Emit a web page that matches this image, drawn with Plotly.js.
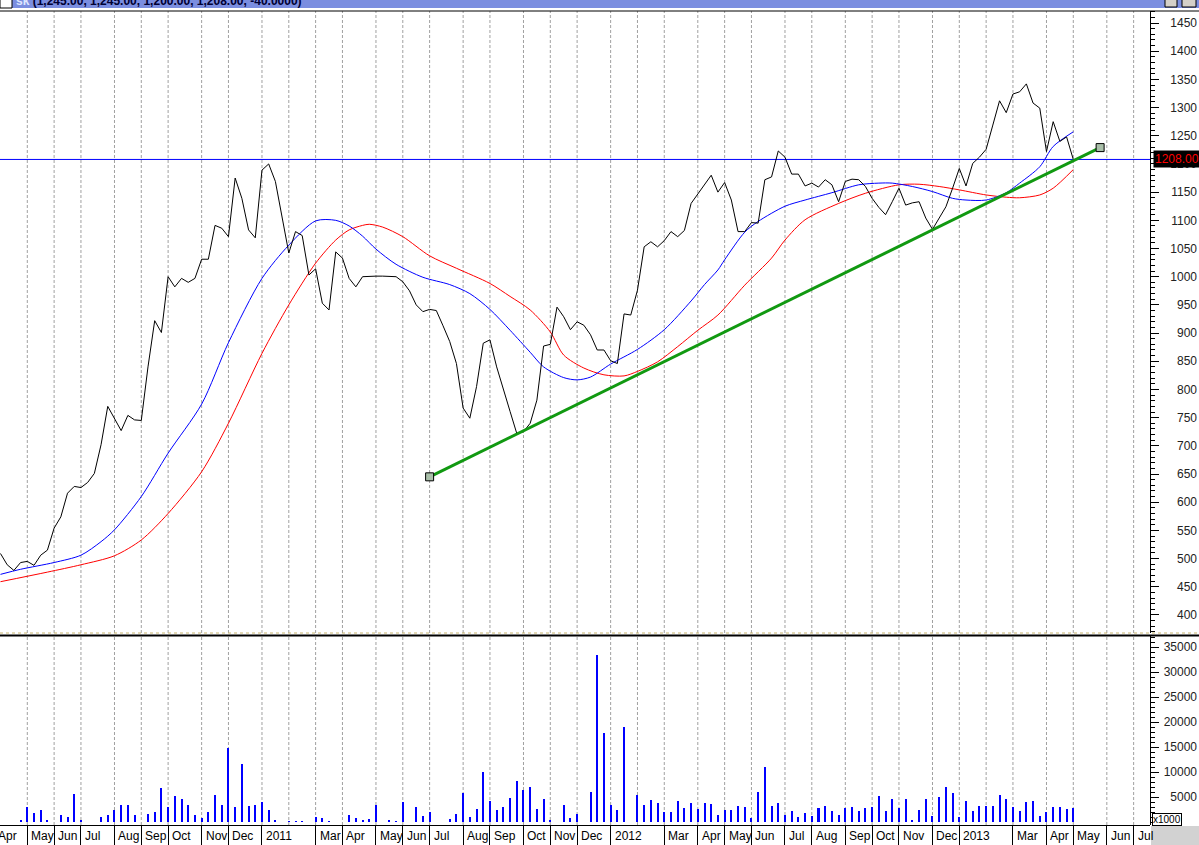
<!DOCTYPE html>
<html><head><meta charset="utf-8">
<script src="https://cdn.plot.ly/plotly-3.0.1.min.js"></script>
<style>html,body{margin:0;padding:0;background:#fff;overflow:hidden}</style>
</head><body><div id="chart" style="width:1199px;height:845px"></div>
<script>
// ---- DATA (weekly, Fridays; week 0 = 2010-04-09) ----
const titleText = "sk";
const ohlcText = "(1,245.00, 1,245.00, 1,200.00, 1,208.00, -40.0000)";
const monthNames = ["Jan","Feb","Mar","Apr","May","Jun","Jul","Aug","Sep","Oct","Nov","Dec"];

const closes = [
 509,489,479,493,495,488,506,515,554,574,
 616,628,626,635,651,702,770,748,727,754,
 746,745,840,922,901,1000,982,997,990,997,
 1031,1031,1091,1086,1071,1175,1139,1083,1069,1189,
 1200,1169,1107,1042,1080,1073,1003,1014,953,941,
 1044,1033,997,982,1000,1001,1001,1001,1001,1000,
 991,975,950,938,942,940,913,885,846,767,
 749,805,882,888,840,799,761,722,725,740,
 781,877,880,946,929,906,920,914,897,870,
 870,851,846,934,932,976,1053,1062,1053,1064,
 1080,1071,1082,1130,1147,1163,1180,1150,1167,1136,
 1080,1080,1096,1095,1172,1177,1223,1212,1182,1182,
 1161,1166,1159,1172,1163,1133,1169,1173,1172,1160,
 1139,1123,1110,1133,1157,1127,1131,1133,1104,1084,
 1104,1124,1157,1192,1161,1201,1212,1226,1269,1312,
 1291,1324,1328,1342,1308,1299,1222,1275,1240,1248,
 1208
];

const volumes = [
 0,0,0,400,3100,1900,2500,500,0,1500,
 1000,5600,400,0,0,1000,1500,2500,3500,3500,
 1500,0,1700,2000,6800,3000,5300,4600,3500,1500,
 800,2000,5500,3500,14800,3000,11600,3300,3500,4000,
 2500,500,0,300,300,300,0,1000,800,300,
 0,0,1500,800,500,600,3500,0,500,200,
 4000,0,3000,1300,2000,0,0,600,1600,5800,
 1000,2700,10000,4300,2500,3000,4800,8200,6500,7000,
 2600,4700,500,0,3400,800,1600,0,6000,33500,
 17800,3500,2500,19000,0,5500,3500,4400,3800,2000,
 2000,4200,2800,3900,2600,3900,3600,1500,2500,2500,
 3300,3000,800,6000,11000,3300,3800,1500,2300,1000,
 1800,1300,2800,3300,2200,1500,2800,3000,2300,2800,
 3000,5300,2200,4700,2900,4700,500,2500,4600,1300,
 5000,7000,5800,1000,4200,2300,3200,3200,3300,5500,
 4600,3000,2300,4000,4200,1300,2100,3000,3000,2600,
 2900
];

const blueWeeks = [0,3,8,12,15,17,21,25,30,34,39,43,47,50,52,54,56,59,63,67,70,73,76,79,81,84,86,88,91,95,99,103,105,107,108,111,113,117,120,124,128,131,133,136,139,142,144,147,150,152,155,157,160];
const blueMA    = [472,481,493,506,530,551,610,687,774,883,997,1056,1099,1100,1090,1072,1049,1022,999,986,970,942,905,866,840,821,817,822,845,871,906,957,986,1012,1030,1079,1098,1125,1136,1149,1163,1166,1166,1160,1151,1139,1136,1136,1149,1166,1195,1231,1257];

const redWeeks = [0,7,12,17,21,25,30,34,39,43,47,50,52,54,55,57,60,64,68,73,76,79,82,84,87,90,93,95,98,101,104,107,111,115,117,120,125,129,134,137,140,143,147,150,152,155,157,160];
const redMA    = [459,476,489,505,533,580,654,740,864,950,1024,1065,1083,1091,1093,1088,1071,1037,1015,988,965,941,902,861,838,826,824,832,849,876,905,932,985,1033,1065,1101,1130,1148,1163,1164,1160,1154,1145,1141,1140,1145,1157,1190];

const trendWeeks  = [64, 164];
const trendPrices = [645, 1229];
const lastClose = 1208;
const lastLabel = "1208.00";
const volTicks = [5000,10000,15000,20000,25000,30000,35000];

// ---- derived helpers ----
const weeks = closes.map((_, i) => i);
const volWeeks = volumes.map((_, i) => i);
const xr = [-0.0716, 171.44];
const pxPerWeek = 1150 / (xr[1] - xr[0]);
const H = 814; // plot height px (top 11, bottom 825)
const py = p => (825 - p) / H; // pixel row -> paper y
const px = p => p / 1199;

const tickWeeks = [], tickText = [], febWeeks = [];
let prevM = null;
for (let k = -1; k <= 175; k++) {
  const d = new Date(Date.UTC(2010, 3, 9 + 7 * k));
  const m = d.getUTCMonth();
  if (m !== prevM) {
    if (m === 1) febWeeks.push(k);
    else { tickWeeks.push(k); tickText.push(m === 0 ? String(d.getUTCFullYear()) : monthNames[m]); }
  }
  prevM = m;
}

const FONT = "Liberation Sans, Arial, sans-serif";
const GRID = { color: "#a0a0a0", width: 1, dash: "3px,2px" };
const annotations = [];
tickWeeks.forEach((k, i) => {
  if (k > xr[1] - 2) return;
  const inR = k >= xr[0];
  annotations.push({
    x: inR ? k : xr[0], xref: "x", y: 0, yref: "paper",
    xanchor: "left", yanchor: "top", yshift: -2,
    xshift: (inR ? 0 : (k - xr[0]) * pxPerWeek) + 2,
    text: tickText[i], showarrow: false,
    font: { family: FONT, size: 12, color: "#000" }
  });
});
annotations.push({
  x: px(14), xref: "paper", y: py(10), yref: "paper", xanchor: "left", yanchor: "bottom",
  text: '<span style="color:#dfe6ff">' + titleText + '</span> ' + ohlcText,
  showarrow: false, font: { family: FONT, size: 12, color: "#000033", weight: "bold" }
});
annotations.push({
  x: px(1153), xref: "paper", y: lastClose, yref: "y", xanchor: "left", yanchor: "middle",
  text: lastLabel, showarrow: false, bgcolor: "#000", borderpad: 1,
  font: { family: FONT, size: 12, color: "#ff0000" }
});
annotations.push({
  x: px(1152), xref: "paper", y: py(826), yref: "paper", xanchor: "left", yanchor: "bottom",
  text: "x1000", showarrow: false, bgcolor: "#fff", bordercolor: "#000", borderwidth: 1, borderpad: 0,
  font: { family: FONT, size: 10, color: "#000" }
});

const traces = [
  { type: "bar", x: volWeeks, y: volumes, xaxis: "x", yaxis: "y2", width: 0.3,
    marker: { color: "#0000ff", line: { width: 0 } }, hoverinfo: "skip" },
  { type: "scatter", mode: "lines", x: xr, y: [lastClose, lastClose], xaxis: "x", yaxis: "y",
    line: { color: "#0000ff", width: 1 }, hoverinfo: "skip", cliponaxis: false },
  { type: "scatter", mode: "lines", x: redWeeks, y: redMA, xaxis: "x", yaxis: "y",
    line: { color: "#ff0000", width: 1, shape: "spline", smoothing: 0.8 }, hoverinfo: "skip" },
  { type: "scatter", mode: "lines", x: blueWeeks, y: blueMA, xaxis: "x", yaxis: "y",
    line: { color: "#0000ff", width: 1, shape: "spline", smoothing: 0.8 }, hoverinfo: "skip" },
  { type: "scatter", mode: "lines", x: weeks, y: closes, xaxis: "x", yaxis: "y",
    line: { color: "#000000", width: 1 }, hoverinfo: "skip" },
  { type: "scatter", mode: "lines+markers", x: trendWeeks, y: trendPrices, xaxis: "x", yaxis: "y",
    line: { color: "#119911", width: 3 },
    marker: { symbol: "square", size: 8, color: "#a9bfa9", line: { color: "#000", width: 1 } }, hoverinfo: "skip" },
  { type: "scatter", mode: "lines", x: weeks, y: closes, xaxis: "x", yaxis: "y3", opacity: 0,
    line: { width: 0 }, hoverinfo: "skip" },
  { type: "bar", x: volWeeks, y: volumes, xaxis: "x", yaxis: "y4", opacity: 0, hoverinfo: "skip" }
];

const priceRange = [368, 1471.3];
const volRange = [-580, 37330];
const axLine = { showline: true, linecolor: "#000", linewidth: 1 };

const shapes = [
  { type: "rect", xref: "paper", yref: "paper", x0: 0, x1: 1, y0: py(8), y1: py(-2),
    fillcolor: "#7b8ee0", line: { width: 0 }, layer: "below" },
  { type: "rect", xref: "paper", yref: "paper", x0: 0, x1: px(12), y0: py(8), y1: py(-2),
    fillcolor: "#ffffff", line: { color: "#000", width: 1 }, layer: "below" },
  { type: "rect", xref: "paper", yref: "paper", x0: px(1165), x1: px(1177), y0: py(7), y1: py(-2),
    fillcolor: "#d4d0c8", line: { color: "#000", width: 1 }, layer: "below" },
  { type: "rect", xref: "paper", yref: "paper", x0: px(1182), x1: px(1196), y0: py(7), y1: py(-2),
    fillcolor: "#d4d0c8", line: { color: "#000", width: 1 }, layer: "below" },
  { type: "line", xref: "paper", yref: "paper", x0: 0, x1: 1, y0: py(11), y1: py(11),
    line: { color: "#000", width: 1 } },
  { type: "line", xref: "paper", yref: "paper", x0: 0, x1: 1, y0: py(633), y1: py(633),
    line: { color: "#c8b46e", width: 1, dash: "dot" } },
  { type: "line", xref: "paper", yref: "paper", x0: 0, x1: 1, y0: py(635.5), y1: py(635.5),
    line: { color: "#000", width: 2 } },
  { type: "rect", xref: "paper", yref: "paper", x0: px(1151), x1: 1, y0: py(845), y1: py(826),
    fillcolor: "#d2d2d2", line: { width: 0 } }
];
// Monthly gridlines (incl. unlabeled February) in both panels
tickWeeks.concat(febWeeks).forEach(k => {
  if (k <= xr[0] || k >= xr[1]) return;
  shapes.push({ type: "line", xref: "x", yref: "paper", x0: k, x1: k, y0: py(633), y1: py(11), line: GRID, layer: "below" });
  shapes.push({ type: "line", xref: "x", yref: "paper", x0: k, x1: k, y0: 0, y1: py(636), line: GRID, layer: "below" });
});

const layout = {
  width: 1199, height: 845, margin: { l: 0, r: 0, t: 11, b: 20, pad: 0 },
  paper_bgcolor: "#fff", plot_bgcolor: "#fff", showlegend: false, bargap: 0,
  font: { family: FONT, size: 12, color: "#000" },
  xaxis: {
    domain: [0, 1150 / 1199], range: xr, anchor: "y2", fixedrange: true,
    tickmode: "array", tickvals: tickWeeks, showticklabels: false,
    ticks: "outside", ticklen: 20, tickcolor: "#000", tickwidth: 1,
    showgrid: false, zeroline: false, showline: true, linecolor: "#000", linewidth: 1
  },
  yaxis: Object.assign({
    domain: [py(633), 1], range: priceRange, anchor: "free", position: 1150 / 1199, side: "right",
    tickmode: "linear", tick0: 0, dtick: 50, ticks: "outside", ticklen: 8, tickcolor: "#000",
    showticklabels: false, showgrid: false, zeroline: false, fixedrange: true,
    minor: { tickmode: "linear", tick0: 0, dtick: 10, ticks: "outside", ticklen: 4, tickcolor: "#000", showgrid: false }
  }, axLine),
  yaxis3: {
    overlaying: "y", range: priceRange, anchor: "free", position: 1197 / 1199, side: "left",
    tickmode: "linear", tick0: 0, dtick: 50, ticks: "", showline: false, showgrid: false,
    zeroline: false, tickformat: "d", fixedrange: true,
    tickfont: { family: FONT, size: 12, color: "#222" }
  },
  yaxis2: Object.assign({
    domain: [0, py(635.5)], range: volRange, anchor: "free", position: 1150 / 1199, side: "right",
    tickmode: "linear", tick0: 0, dtick: 5000, ticks: "outside", ticklen: 8, tickcolor: "#000",
    showticklabels: false, showgrid: false, zeroline: false, fixedrange: true,
    minor: { tickmode: "linear", tick0: 0, dtick: 1000, ticks: "outside", ticklen: 4, tickcolor: "#000", showgrid: false }
  }, axLine),
  yaxis4: {
    overlaying: "y2", range: volRange, anchor: "free", position: 1197 / 1199, side: "left",
    tickmode: "array", tickvals: volTicks, ticks: "", showline: false, showgrid: false,
    zeroline: false, tickformat: "d", fixedrange: true,
    tickfont: { family: FONT, size: 12, color: "#222" }
  },
  shapes: shapes,
  annotations: annotations
};

Plotly.newPlot("chart", traces, layout, { staticPlot: true, displayModeBar: false });
</script>
</body></html>
